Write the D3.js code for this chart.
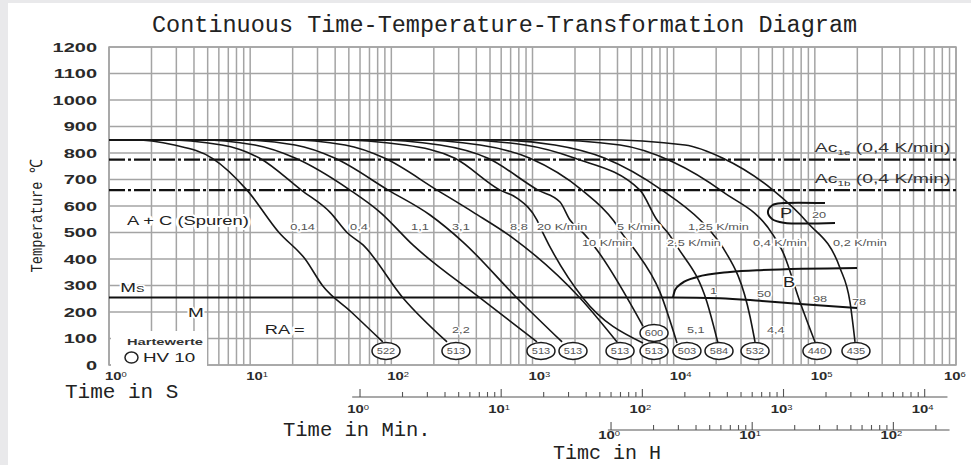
<!DOCTYPE html>
<html>
<head>
<meta charset="utf-8">
<script src="https://cdn.jsdelivr.net/npm/d3@7"></script>
<style>
  html, body { margin: 0; padding: 0; background: #e9e9eb; }
  svg { display: block; }
</style>
</head>
<body>
<svg id="chart" width="971" height="465"></svg>
<script>
// cooling curves, [time in s, temperature in °C]
const curve014 = [[1,850],[1.4,850],[2.9,830],[5.4,780],[9.5,660],[16,500],[24.5,400],[32.5,300],[52,200],[87,87]];
const curve04 = [[1,850],[2.3,850],[6.3,830],[11.7,780],[23,660],[37,575],[48.5,500],[63,453],[121,253],[248,87]];
const curve11 = [[1,850],[4.1,850],[10.8,830],[21,780],[51,660],[83,577],[142,453],[425,253],[1076,87]];
const curve31 = [[1,850],[7.8,850],[20.8,830],[40,780],[95,660],[188,566],[322,464],[776,253],[1620,87]];
const curve88 = [[1,850],[17.6,850],[47,830],[90,780],[211,660],[379,577],[728,479],[2170,253],[3970,87]];
const curve20K = [[1,850],[37,850],[125,830],[282,780],[589,660],[776,630],[1076,547],[1187,498],[2278,253],[6060,83]];
const curve10K = [[1,850],[71,850],[221,830],[484,780],[1094,660],[1566,615],[1843,547],[2353,491],[2864,434],[6060,147]];
const curve5K = [[1,850],[136,850],[425,830],[960,780],[2240,660],[3720,547],[4380,491],[5320,434],[8000,275],[10560,83]];
const curve25K = [[1,850],[282,850],[885,830],[2000,780],[5770,660],[7620,547],[9120,498],[10730,442],[17200,238],[20600,83]];
const curve125K = [[1,850],[500,850],[1440,830],[3260,780],[8260,660],[15400,547],[18700,498],[22400,442],[34800,181],[37700,87]];
const curve04K = [[1,850],[1130,850],[4170,830],[9890,766],[22350,653],[50560,491],[59430,426],[78500,238],[100300,87]];
const curve02K = [[1,850],[3000,850],[12030,830],[22350,780],[50560,660],[87900,540],[150700,366],[177400,238],[192600,87]];
const coolingCurves = [curve014, curve04, curve11, curve31, curve88, curve20K, curve10K, curve5K, curve25K, curve125K, curve04K, curve02K];

// transformation lines
const msLine = [[1,255],[9890,255],[21300,252],[40900,242],[78500,230],[199000,215]];
const bainiteStart = [[9890,255],[10220,283],[11460,309],[14630,332],[25060,351],[40900,358],[199000,366]];
const pearliteNose = [[118000,611],[60000,611],[50000,603],[46500,577],[50000,550],[60000,537],[139000,536]];
const acTemps = [775, 660];
const acNames = ['1e', '1b'];
const acLabelTemps = [804, 687];

// cooling rate labels
const rateLabels = ['0,14','0,4','1,1','3,1','8,8','20 K/min','5 K/min','1,25 K/min','10 K/min','2,5 K/min','0,4 K/min','0,2 K/min'];
const rateTimes = [19.2, 51, 138, 269, 693, 1076, 3970, 12630, 2240, 8970, 36480, 134500];
const rateTemps = [510, 510, 510, 510, 510, 510, 510, 510, 450, 450, 450, 450];

// hardness HV 10
const hvValues = ['522','513','513','513','513','513','600','503','584','532','440','435'];
const hvTimes = [91.7, 287, 1148, 1936, 4170, 7260, 7260, 12420, 20950, 37700, 103500, 195600];
const hvTemps = [53, 53, 53, 53, 53, 53, 121, 53, 53, 53, 53, 53];

// retained austenite, bainite %, pearlite %
const raValues = ['2,2','5,1','4,4'];
const raTimes = [269, 12420, 45810];
const bainitePct = ['1','50','98','78'];
const bainitePctTimes = [18080, 38920, 97000, 183300];
const bainitePctTemps = [268, 257, 238, 226];

// axis ticks
const tempTicks = [0,100,200,300,400,500,600,700,800,900,1000,1100,1200];
const secDecades = [0,1,2,3,4,5,6];
const minDecades = [0,1,2,3,4];
const hourDecades = [0,1,2];

const W = 971, H = 465;
const plot = { left: 109, right: 956, top: 47, bottom: 365 };
const svg = d3.select('#chart');

svg.append('rect').attr('x', 8).attr('y', 3).attr('width', W - 8).attr('height', H - 3).attr('fill', '#fff');

const x = d3.scaleLog().domain([1, 1e6]).range([plot.left, plot.right]);
const y = d3.scaleLinear().domain([0, 1200]).range([plot.bottom, plot.top]);
const xMin = d3.scaleLog().domain([1 / 60, 1e6 / 60]).range([plot.left, plot.right]);
const xHour = d3.scaleLog().domain([1 / 3600, 1e6 / 3600]).range([plot.left, plot.right]);

const SANS = 'Liberation Sans, Arial, sans-serif';
const MONO = 'Liberation Mono, Courier New, DejaVu Sans Mono, monospace';

// grid + border
const grid = svg.append('g').attr('stroke', '#a4a4a4').attr('stroke-width', 1.5);
grid.selectAll('.v').data(x.ticks()).enter().append('line')
  .attr('x1', d => x(d)).attr('x2', d => x(d))
  .attr('y1', plot.top).attr('y2', plot.bottom);
grid.selectAll('.h').data(tempTicks).enter().append('line')
  .attr('x1', plot.left).attr('x2', plot.right)
  .attr('y1', d => y(d)).attr('y2', d => y(d));
svg.append('rect').attr('x', plot.left).attr('y', plot.top)
  .attr('width', plot.right - plot.left).attr('height', plot.bottom - plot.top)
  .attr('fill', 'none').attr('stroke', '#a4a4a4').attr('stroke-width', 1.5);

// white box behind the hardness legend
svg.append('rect').attr('x', 111).attr('y', 331).attr('width', 96).attr('height', 36).attr('fill', '#fff');

// stretched text helper (the diagram's sans font is very wide)
function label(g, t, T, str, o) {
  o = o || {};
  const el = g.append('text')
    .attr('transform', 'translate(' + x(t) + ',' + y(T) + ') scale(' + (o.sx || 1.4) + ',1)')
    .attr('font-family', SANS)
    .attr('font-size', o.size || 13)
    .attr('font-weight', o.weight || 'normal')
    .attr('fill', o.fill || '#222')
    .attr('text-anchor', o.anchor || 'start');
  if (o.halo) {
    el.attr('stroke', '#fff').attr('stroke-width', o.halo)
      .attr('paint-order', 'stroke').attr('stroke-linejoin', 'round');
  }
  if (str !== null) el.text(str);
  return el;
}

// Ac1e / Ac1b dash-dot lines
svg.selectAll('.ac').data(acTemps).enter().append('line')
  .attr('x1', x(1)).attr('x2', x(1e6))
  .attr('y1', d => y(d)).attr('y2', d => y(d))
  .attr('stroke', '#111').attr('stroke-width', 2.2)
  .attr('stroke-dasharray', '16,3,3,3');

const line = d3.line().x(d => x(d[0])).y(d => y(d[1])).curve(d3.curveMonotoneX);

// Ms + bainite finish, bainite start, pearlite nose
svg.append('path').attr('d', line(msLine)).attr('fill', 'none').attr('stroke', '#111').attr('stroke-width', 2);
svg.append('path').attr('d', line(bainiteStart)).attr('fill', 'none').attr('stroke', '#111').attr('stroke-width', 2);
svg.append('path')
  .attr('d', d3.line().x(d => x(d[0])).y(d => y(d[1])).curve(d3.curveCatmullRom.alpha(0.5))(pearliteNose))
  .attr('fill', 'none').attr('stroke', '#111').attr('stroke-width', 2);

// cooling curves
svg.append('g').selectAll('path').data(coolingCurves).enter().append('path')
  .attr('d', d => line(d))
  .attr('fill', 'none').attr('stroke', '#161616').attr('stroke-width', 1.6);

// hardness marks
const hv = svg.append('g');
hvValues.forEach((v, i) => {
  hv.append('ellipse')
    .attr('cx', x(hvTimes[i])).attr('cy', y(hvTemps[i]))
    .attr('rx', 14).attr('ry', 8.5)
    .attr('fill', '#fff').attr('stroke', '#1a1a1a').attr('stroke-width', 1.5);
  label(hv, hvTimes[i], hvTemps[i], v, { size: 8.5, sx: 1.3, anchor: 'middle', fill: '#555' })
    .attr('dy', 3);
});

// cooling rate labels
const rl = svg.append('g');
rateLabels.forEach((s, i) => label(rl, rateTimes[i], rateTemps[i], s, { size: 8.5, sx: 1.5, fill: '#555', halo: 3 }));

// retained austenite, bainite and pearlite numbers
raValues.forEach((s, i) => label(rl, raTimes[i], 121, s, { size: 8.5, sx: 1.5, fill: '#555', halo: 2 }));
bainitePct.forEach((s, i) => label(rl, bainitePctTimes[i], bainitePctTemps[i], s, { size: 8.5, sx: 1.5, fill: '#555', halo: 2 }));
label(rl, 95500, 555, '20', { size: 8.5, sx: 1.5, fill: '#555', halo: 2 });

// phase labels
const pl = svg.append('g');
label(pl, 1.34, 528, 'A + C (Spuren)', { size: 12.5, sx: 1.47, halo: 4 });
const ms = label(pl, 1.2, 275, null, { size: 13.5, sx: 1.4, halo: 3 });
ms.append('tspan').text('M');
ms.append('tspan').attr('font-size', 9).text('S');
label(pl, 3.63, 181, 'M', { size: 13.5, sx: 1.4, halo: 3 });
label(pl, 12.7, 117, 'RA =', { size: 13, sx: 1.4, halo: 4 });
label(pl, 59560, 294, 'B', { size: 14, sx: 1.3, halo: 3 });
label(pl, 56640, 555, 'P', { size: 14, sx: 1.3 });
acNames.forEach((n, i) => {
  const t = label(pl, 1e5, acLabelTemps[i], null, { size: 12.5, sx: 1.55, fill: '#333' });
  t.append('tspan').text('Ac');
  t.append('tspan').attr('font-size', 7.5).attr('dy', 3).text(n);
  t.append('tspan').attr('dy', -3).text(' (0,4 K/min)');
});

// hardness legend
label(pl, 1.34, 75, 'Hartewerte', { size: 9.5, sx: 1.55, weight: 'bold', fill: '#333' });
label(pl, 1.74, 11, 'HV 10', { size: 13, sx: 1.45, fill: '#222' });
svg.append('ellipse').attr('cx', x(1.443)).attr('cy', y(28))
  .attr('rx', 6.5).attr('ry', 5.5).attr('fill', 'none').attr('stroke', '#222').attr('stroke-width', 1.5);

// temperature ticks
tempTicks.forEach(v => {
  svg.append('text')
    .attr('transform', 'translate(97,' + (y(v) + 4.5) + ') scale(1.6,1)')
    .attr('text-anchor', 'end')
    .attr('font-family', SANS).attr('font-weight', 'bold').attr('font-size', 12.5)
    .attr('fill', '#2a2a2a').text(v);
});

function powLabel(px, py, e, anchor) {
  const t = svg.append('text')
    .attr('transform', 'translate(' + px + ',' + py + ') scale(1.35,1)')
    .attr('text-anchor', anchor)
    .attr('font-family', SANS).attr('font-weight', 'bold').attr('font-size', 11)
    .attr('fill', '#2a2a2a');
  t.append('tspan').text('10');
  t.append('tspan').attr('font-size', 7).attr('font-weight', 'normal').attr('dy', -3).text(e);
}

// seconds axis labels
secDecades.forEach(e => powLabel(x(Math.pow(10, e)) - (e === 6 ? 12 : 4), 380, e, 'start'));

// minutes and hours axes
function subAxis(scale, yLine, lo, hi, decades, labelY) {
  const g = svg.append('g').attr('stroke', '#555').attr('stroke-width', 1.1);
  g.append('line').attr('x1', scale(lo)).attr('x2', scale(hi)).attr('y1', yLine).attr('y2', yLine);
  const ticks = scale.ticks().filter(v => v >= 0.999 && v <= hi);
  g.selectAll('.tk').data(ticks).enter().append('line')
    .attr('x1', d => scale(d)).attr('x2', d => scale(d))
    .attr('y1', yLine)
    .attr('y2', d => Math.abs(Math.log10(d) - Math.round(Math.log10(d))) < 1e-6 ? yLine - 8 : yLine - 5);
  decades.forEach(e => powLabel(scale(Math.pow(10, e)) - 2, labelY, e, 'middle'));
}
subAxis(xMin, 397, 0.88, 14500, minDecades, 413);
subAxis(xHour, 430, 0.95, 250, hourDecades, 439);

// titles
svg.append('text').attr('x', 152).attr('y', 32)
  .attr('font-family', MONO).attr('font-size', 23.5).attr('fill', '#222')
  .text('Continuous Time-Temperature-Transformation Diagram');
svg.append('text').attr('transform', 'translate(42,216) rotate(-90)')
  .attr('text-anchor', 'middle')
  .attr('font-family', MONO).attr('font-size', 17).attr('fill', '#222')
  .attr('textLength', 113).attr('lengthAdjust', 'spacingAndGlyphs')
  .text('Temperature ℃');
svg.append('text').attr('x', 65).attr('y', 398)
  .attr('font-family', MONO).attr('font-size', 21).attr('fill', '#222').text('Time in S');
svg.append('text').attr('x', 283).attr('y', 436)
  .attr('font-family', MONO).attr('font-size', 20.5).attr('fill', '#222').text('Time in Min.');
svg.append('text').attr('x', 553).attr('y', 459)
  .attr('font-family', MONO).attr('font-size', 20).attr('fill', '#222').text('Timc in H');
</script>
</body>
</html>
